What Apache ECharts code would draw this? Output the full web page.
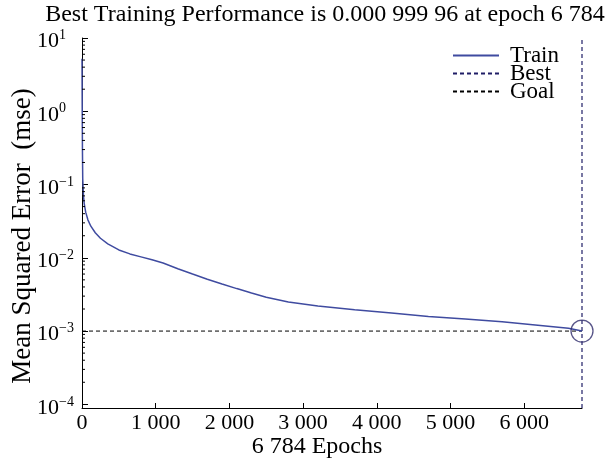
<!DOCTYPE html>
<html><head><meta charset="utf-8">
<script src="https://cdn.jsdelivr.net/npm/echarts@6/dist/echarts.min.js"></script>
<style>html,body{margin:0;padding:0;background:#fff}#c{width:613px;height:461px}</style>
</head><body><div id="c"></div>
<script>
// ---- data ----
const epochs   = [0, 3, 6, 10, 15, 20, 30, 50, 80, 120, 180, 250, 350, 500, 650, 800, 950, 1100, 1300, 1500, 1700, 1900, 2100, 2300, 2500, 2800, 3200, 3700, 4200, 4700, 5200, 5700, 6150, 6600, 6784];
const trainMSE = [5.2, 1.0, 0.3, 0.12, 0.09, 0.07, 0.055, 0.042, 0.033, 0.027, 0.022, 0.0185, 0.0155, 0.0128, 0.0113, 0.0103, 0.0094, 0.0085, 0.0071, 0.006, 0.0051, 0.0044, 0.0038, 0.0033, 0.0029, 0.0025, 0.0022, 0.00195, 0.00176, 0.00158, 0.00146, 0.00134, 0.00121, 0.00109, 0.00099996];
const bestEpoch = 6784;
const bestPerf = 0.00099996;
const goalMSE = 0.001;
const xTickValues = [0, 1000, 2000, 3000, 4000, 5000, 6000];
const yDecades = [1e-4, 1e-3, 1e-2, 1e-1, 1, 10];
const titleText = 'Best Training Performance is 0.000 999 96 at epoch 6 784';
const xName = '6 784 Epochs';
const yName = 'Mean Squared Error  (mse)';
const legendNames = ['Train', 'Best', 'Goal'];

const yMin = Math.pow(10, -4.05), yMax = 10;
const FONT = 'Liberation Serif';
const minorVals = [];
for (let i = 0; i < yDecades.length - 1; i++) for (let m = 2; m <= 9; m++) minorVals.push(m * yDecades[i]);

function fmtThousands(v){ const s = String(v); return s.length > 3 ? s.slice(0, s.length-3) + ' ' + s.slice(-3) : s; }

const chart = echarts.init(document.getElementById('c'), null, {renderer: 'canvas'});
chart.setOption({
  animation: false,
  backgroundColor: '#fff',
  title: {
    text: titleText, left: 325, top: 3, padding: 0, textAlign: 'center',
    textStyle: {fontFamily: FONT, fontSize: 24, fontWeight: 'normal', color: '#000'}
  },
  legend: {
    data: legendNames, orient: 'vertical', left: 452, top: 44, padding: 0, itemGap: -5,
    itemWidth: 46, itemHeight: 10,
    itemStyle: {opacity: 0},
    textStyle: {fontFamily: FONT, fontSize: 23, color: '#000', lineHeight: 18, padding: [0,0,0,6]}
  },
  grid: {left: 82, right: 31, top: 38, bottom: 53, containLabel: false, outerBoundsMode: 'none'},
  xAxis: {
    type: 'value', min: 0, max: bestEpoch,
    name: xName, nameLocation: 'middle', nameGap: 27, nameMoveOverlap: false,
    nameTextStyle: {fontFamily: FONT, fontSize: 24, color: '#000', padding: [0,30,0,0]},
    axisLine: {show: true, lineStyle: {color: '#000', width: 1}},
    axisTick: {show: true, inside: true, length: 5, lineStyle: {color: '#000'}, customValues: xTickValues},
    axisLabel: {customValues: xTickValues, fontFamily: FONT, fontSize: 22, color: '#000', margin: 4, formatter: v => fmtThousands(v)},
    splitLine: {show: false}
  },
  yAxis: {
    type: 'log', logBase: 10, min: yMin, max: yMax,
    name: yName, nameLocation: 'middle', nameGap: 46, nameMoveOverlap: false,
    nameTextStyle: {fontFamily: FONT, fontSize: 27, color: '#000', padding: [0,26,0,0]},
    axisLine: {show: true, lineStyle: {color: '#000', width: 1}},
    axisTick: {show: true, inside: true, length: 6, lineStyle: {color: '#000'}},
    axisLabel: {
      margin: 45, align: 'left', padding: [7,0,0,0], color: '#000',
      formatter: function(v){
        const l = Math.log10(v), e = Math.round(l);
        if (Math.abs(l - e) > 1e-6) return '';
        return '{b|10}{s|' + (e < 0 ? '\u2212' + (-e) : e) + '}';
      },
      rich: {
        b: {fontFamily: FONT, fontSize: 22, color: '#000', lineHeight: 26},
        s: {fontFamily: FONT, fontSize: 14, color: '#000', verticalAlign: 'top'}
      }
    },
    splitLine: {show: false}
  },
  series: [
    {name: 'Train', type: 'line', symbol: 'none', data: epochs.map((e,i) => [e, trainMSE[i]]),
     lineStyle: {color: '#3f4ba0', width: 1.5}, itemStyle: {color: '#3f4ba0'}, z: 4},
    {name: 'Best', type: 'line', symbol: 'none', data: [[bestEpoch, yMin], [bestEpoch, yMax]],
     lineStyle: {color: '#1f1d66', width: 1.2, type: [4,3]}, itemStyle: {color: '#1f1d66'}, z: 3},
    {name: 'Goal', type: 'line', symbol: 'none', data: [[0, goalMSE], [bestEpoch, goalMSE]],
     lineStyle: {color: '#000', width: 1, type: [4,3]}, itemStyle: {color: '#000'}, z: 3},
    {name: 'BestPoint', type: 'scatter', data: [[bestEpoch, bestPerf]], symbol: 'circle', symbolSize: 22,
     itemStyle: {color: 'rgba(0,0,0,0)', borderColor: '#2e2b6b', borderWidth: 1.3}, z: 5, silent: true},
    {name: 'minorTicks', type: 'custom', data: minorVals.map(v => [0, v]), encode: {x: 0, y: 1}, silent: true,
     renderItem: function(params, api){
       const p = api.coord([0, api.value(1)]);
       return {type: 'line', shape: {x1: p[0], y1: p[1], x2: p[0] + 3, y2: p[1]}, style: {stroke: '#000', lineWidth: 1}};
     }, z: 6}
  ]
});
</script></body></html>
